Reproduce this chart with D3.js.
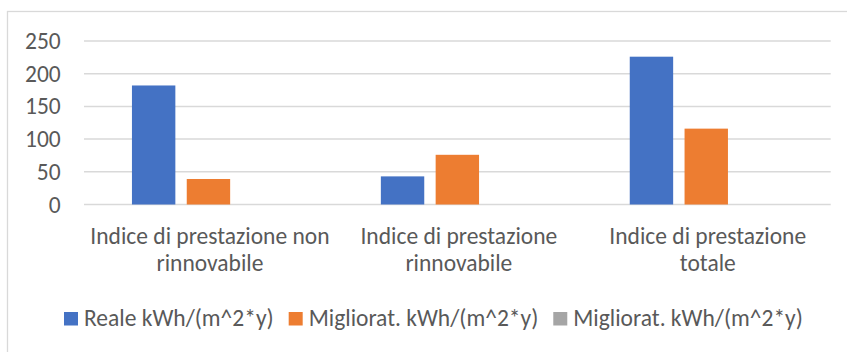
<!DOCTYPE html>
<html>
<head>
<meta charset="utf-8">
<script src="https://cdn.jsdelivr.net/npm/d3@7"></script>
<style>
  html, body { margin: 0; padding: 0; background: #fff; }
  svg { display: block; }
  text { font-family: Carlito, Calibri, Lato, sans-serif; fill: #595959; }
</style>
</head>
<body>
<svg id="chart" width="847" height="352"></svg>
<script>
// Category labels (each split onto two lines)
const categories = [
  "Indice di prestazione non rinnovabile",
  "Indice di prestazione rinnovabile",
  "Indice di prestazione totale"
];
const categoryLines = [
  ["Indice di prestazione non", "rinnovabile"],
  ["Indice di prestazione", "rinnovabile"],
  ["Indice di prestazione", "totale"]
];
const seriesNames = [
  "Reale kWh/(m^2*y)",
  "Migliorat. kWh/(m^2*y)",
  "Migliorat. kWh/(m^2*y) "
];
const reale = [182, 43, 226];
const migliorat = [39, 76, 116];
const migliorat2 = [0, 0, 0];
const yTicks = [0, 50, 100, 150, 200, 250];
const colors = ["#4472C4", "#ED7D31", "#A5A5A5"];

const seriesValues = [reale, migliorat, migliorat2];
const rows = categories.map((c, i) => ({
  category: c,
  values: seriesNames.map((s, j) => ({ key: s, value: seriesValues[j][i], color: colors[j] }))
}));

const svg = d3.select("#chart");
const fontSize = 23.5;

// Chart area outline
svg.append("rect")
  .attr("x", 7.5).attr("y", 11.5)
  .attr("width", 870).attr("height", 360)
  .attr("fill", "none")
  .attr("stroke", "#d9d9d9")
  .attr("stroke-width", 1.3);

const plot = { left: 84, right: 830.7, top: 41, bottom: 204.5 };

const x0 = d3.scaleBand()
  .domain(categories)
  .range([plot.left, plot.right])
  .paddingInner(0).paddingOuter(0);

const x1 = d3.scaleBand()
  .domain(seriesNames)
  .range([0, x0.bandwidth()])
  .paddingInner(0.208)
  .paddingOuter(0.875);

const y = d3.scaleLinear()
  .domain([0, 250])
  .range([plot.bottom, plot.top]);

// Horizontal gridlines
svg.append("g")
  .selectAll("line")
  .data(yTicks)
  .join("line")
  .attr("x1", plot.left).attr("x2", plot.right)
  .attr("y1", d => y(d)).attr("y2", d => y(d))
  .attr("stroke", "#d9d9d9")
  .attr("stroke-width", 1.5);

// Y-axis labels
const yAxis = d3.axisLeft(y).tickValues(yTicks).tickSize(0).tickPadding(0);
svg.append("g")
  .attr("transform", `translate(60.7,0)`)
  .call(yAxis)
  .call(g => g.select(".domain").remove())
  .call(g => g.selectAll("text")
    .attr("font-size", fontSize)
    .attr("font-family", null)
    .style("fill", "#595959"));

// Bars
svg.append("g")
  .selectAll("g")
  .data(rows)
  .join("g")
  .attr("transform", d => `translate(${x0(d.category)},0)`)
  .selectAll("rect")
  .data(d => d.values)
  .join("rect")
  .attr("x", d => x1(d.key))
  .attr("width", x1.bandwidth())
  .attr("y", d => y(d.value))
  .attr("height", d => y(0) - y(d.value))
  .attr("fill", d => d.color);

// Category labels
const catG = svg.append("g");
categories.forEach((c, i) => {
  const cx = x0(c) + x0.bandwidth() / 2 + 1.5;
  const t = catG.append("text")
    .attr("x", cx)
    .attr("y", 244.3)
    .attr("text-anchor", "middle")
    .attr("font-size", fontSize);
  categoryLines[i].forEach((line, k) => {
    t.append("tspan")
      .attr("x", cx)
      .attr("dy", k === 0 ? 0 : 27)
      .text(line);
  });
});

// Legend
const legend = svg.append("g");
let lx = 64;
seriesNames.forEach((s, j) => {
  legend.append("rect")
    .attr("x", lx).attr("y", 312)
    .attr("width", 14).attr("height", 13.5)
    .attr("fill", colors[j]);
  const t = legend.append("text")
    .attr("x", lx + 20).attr("y", 326)
    .attr("font-size", fontSize)
    .text(s.trim());
  lx += 20 + t.node().getComputedTextLength() + 15;
});
</script>
</body>
</html>
